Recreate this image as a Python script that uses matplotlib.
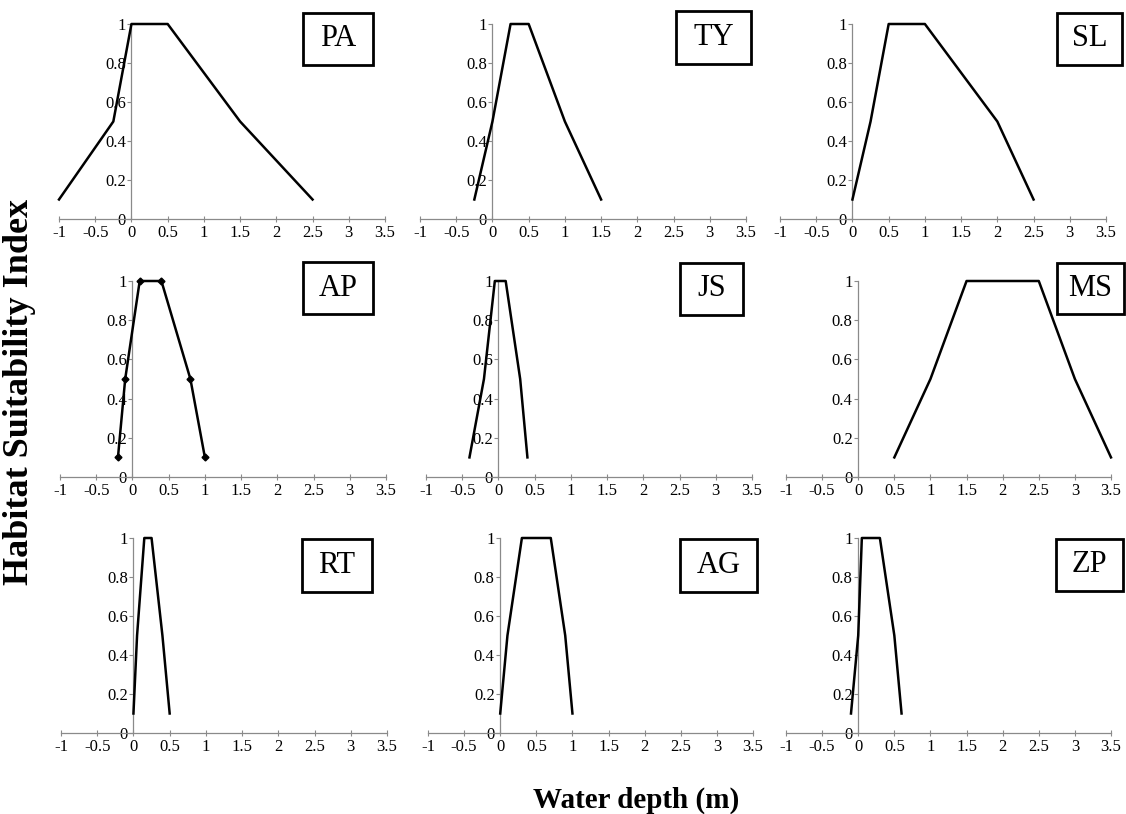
import matplotlib
matplotlib.use("Agg")
import matplotlib.pyplot as plt
from matplotlib.patches import Rectangle

plt.rcParams['font.family'] = ['Liberation Serif', 'DejaVu Serif']

# ---- data ----
species = ["PA", "TY", "SL", "AP", "JS", "MS", "RT", "AG", "ZP"]
hsi = [0.1, 0.5, 1, 1, 0.5, 0.1]
depth_PA = [-1, -0.25, 0, 0.5, 1.5, 2.5]
depth_TY = [-0.25, 0, 0.25, 0.5, 1, 1.5]
depth_SL = [0, 0.25, 0.5, 1, 2, 2.5]
depth_AP = [-0.2, -0.1, 0.1, 0.4, 0.8, 1.0]
depth_JS = [-0.4, -0.2, -0.05, 0.1, 0.3, 0.4]
depth_MS = [0.5, 1, 1.5, 2.5, 3, 3.5]
depth_RT = [0, 0.05, 0.15, 0.25, 0.4, 0.5]
depth_AG = [0, 0.1, 0.3, 0.7, 0.9, 1.0]
depth_ZP = [-0.1, 0, 0.05, 0.3, 0.5, 0.6]
depths = [depth_PA, depth_TY, depth_SL, depth_AP, depth_JS, depth_MS,
          depth_RT, depth_AG, depth_ZP]
x_ticks = [-1, -0.5, 0, 0.5, 1, 1.5, 2, 2.5, 3, 3.5]
x_ticklabels = ["-1", "-0.5", "0", "0.5", "1", "1.5", "2", "2.5", "3", "3.5"]
y_ticks = [0, 0.2, 0.4, 0.6, 0.8, 1]
y_ticklabels = ["0", "0.2", "0.4", "0.6", "0.8", "1"]

# ---- layout (pixels) ----
W, H = 1126, 814
# (x at -1, x at 3.5, y at 1, y at 0)
panel_px = [
    (59, 385, 24, 219), (420, 746, 24, 219), (780, 1106, 24, 219),
    (60, 386, 281, 477), (426, 752, 281, 477), (786, 1111, 281, 477),
    (61, 387, 538, 733), (428, 753, 538, 733), (786, 1111, 538, 733),
]
# label boxes (x0, x1, y0, y1)
box_px = [
    (303, 373, 13, 65), (676, 751, 11, 64), (1057, 1122, 13, 65),
    (303, 373, 262, 314), (680, 743, 263, 315), (1057, 1124, 263, 314),
    (302, 372, 539, 592), (680, 757, 539, 592), (1056, 1123, 539, 591),
]

fig = plt.figure(figsize=(W / 100, H / 100), dpi=100)
axis_color = "#8a8a8a"

for i, name in enumerate(species):
    xl, xr, yt, yb = panel_px[i]
    ax = fig.add_axes([xl / W, 1 - yb / H, (xr - xl) / W, (yb - yt) / H])
    ax.set_xlim(-1, 3.5)
    ax.set_ylim(0, 1)
    if name == "AP":
        ax.plot(depths[i], hsi, color="black", lw=1.8, marker="D",
                markersize=3.5, clip_on=False, zorder=3)
    else:
        ax.plot(depths[i], hsi, color="black", lw=1.8, clip_on=False, zorder=3)
    for s in ["top", "right"]:
        ax.spines[s].set_visible(False)
    ax.spines["left"].set_position(("data", 0))
    ax.spines["left"].set_color(axis_color)
    ax.spines["bottom"].set_color(axis_color)
    ax.spines["left"].set_linewidth(0.9)
    ax.spines["bottom"].set_linewidth(0.9)
    ax.set_xticks(x_ticks)
    ax.set_xticklabels(x_ticklabels)
    ax.set_yticks(y_ticks)
    ax.set_yticklabels(y_ticklabels)
    ax.tick_params(axis="x", direction="inout", length=5, width=0.8,
                   color=axis_color, labelsize=12, pad=2)
    ax.tick_params(axis="y", direction="out", length=3, width=0.8,
                   color=axis_color, labelsize=12, pad=1)
    ax.patch.set_visible(False)

    bx0, bx1, by0, by1 = box_px[i]
    fig.patches.append(Rectangle((bx0 / W, 1 - by1 / H), (bx1 - bx0) / W,
                                 (by1 - by0) / H, transform=fig.transFigure,
                                 fill=True, facecolor="white",
                                 edgecolor="black", lw=2, zorder=5))
    fig.text((bx0 + bx1) / 2 / W, 1 - (by0 + by1) / 2 / H, name,
             ha="center", va="center", fontsize=22, zorder=6)

fig.text(20 / W, 1 - 392 / H, "Habitat Suitability Index", rotation=90,
         ha="center", va="center", fontsize=26, fontweight="bold")
fig.text(636 / W, 1 - 800 / H, "Water depth (m)", ha="center", va="center",
         fontsize=21, fontweight="bold")

fig.savefig("out.png", dpi=100)
